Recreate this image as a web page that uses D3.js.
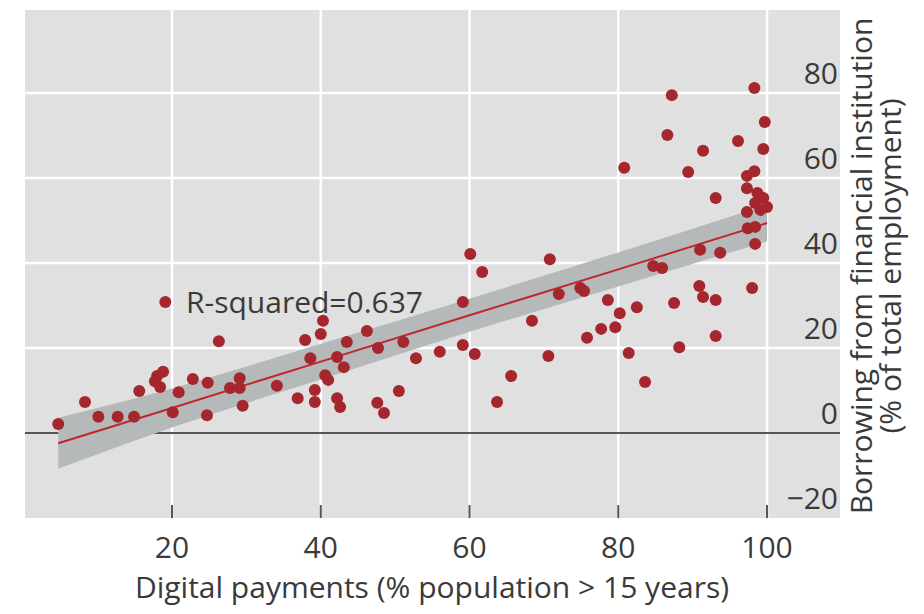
<!DOCTYPE html>
<html>
<head>
<meta charset="utf-8">
<script src="https://cdn.jsdelivr.net/npm/d3@7"></script>
<style>
  html, body { margin: 0; padding: 0; background: #fff; }
  text { font-family: "Open Sans", "Noto Sans", sans-serif; fill: #3a3a3a; }
</style>
</head>
<body>
<svg id="chart" width="924" height="614"></svg>
<script>
// digital payments (% pop > 15) vs borrowing from financial institution
const digitalPay = [
  4.7, 8.3, 10.1, 12.7, 14.9, 15.6, 18.0, 18.8, 17.7, 18.4,
  19.1, 20.1, 20.9, 22.8, 24.7, 24.8, 26.3, 27.8, 29.1, 29.1,
  29.5, 34.1, 36.9, 37.9, 38.6, 39.2, 39.2, 40.0, 40.3, 40.6,
  41.0, 42.2, 42.2, 42.6, 43.1, 43.5, 46.2, 47.7, 47.6, 48.5,
  50.5, 51.1, 52.8, 56.0, 59.1, 60.7, 59.1, 60.1, 61.7, 63.7,
  65.6, 68.4, 70.6, 70.8, 72.0, 74.9, 75.4, 75.8, 77.7, 78.6,
  79.6, 80.2, 82.5, 81.4, 80.8, 83.6, 84.7, 85.9, 87.5, 88.2,
  90.9, 91.4, 93.1, 93.1, 98.0, 87.2, 98.3, 99.7, 86.6, 96.1,
  99.5, 91.4, 89.4, 97.3, 98.3, 97.3, 98.7, 99.5, 100.0, 98.4,
  97.3, 99.1, 93.1, 97.4, 98.4, 98.4, 93.7, 91.0
];
const borrowing = [
  2.1, 7.3, 3.8, 3.8, 3.8, 9.9, 13.4, 14.4, 12.2, 10.8,
  30.8, 4.9, 9.6, 12.7, 4.2, 11.8, 21.6, 10.6, 12.9, 10.6,
  6.4, 11.1, 8.2, 21.9, 17.6, 10.1, 7.3, 23.3, 26.4, 13.6,
  12.5, 17.9, 8.2, 6.1, 15.5, 21.4, 24.0, 20.0, 7.1, 4.7,
  9.9, 21.4, 17.6, 19.1, 20.7, 18.6, 30.8, 42.1, 37.9, 7.3,
  13.4, 26.4, 18.1, 40.9, 32.7, 34.1, 33.4, 22.4, 24.5, 31.3,
  24.9, 28.2, 29.6, 18.8, 62.4, 12.0, 39.3, 38.8, 30.6, 20.2,
  34.6, 32.0, 31.3, 22.8, 34.1, 79.5, 81.2, 73.2, 70.1, 68.7,
  66.8, 66.4, 61.4, 60.5, 61.6, 57.6, 56.5, 55.3, 53.2, 54.1,
  52.0, 52.5, 55.3, 48.2, 48.5, 44.5, 42.4, 43.1
];

// fitted line and confidence band
const fitX = [4.7, 20, 40, 60, 80, 100];
const fitY = [-2.4, 5.9, 16.8, 27.7, 38.5, 49.4];
const bandLo = [-8.4, 1.3, 12.6, 23.8, 34.5, 45.1];
const bandHi = [3.6, 10.5, 21.0, 31.6, 42.5, 53.7];

const xTicks = [20, 40, 60, 80, 100];
const yTicks = [-20, 0, 20, 40, 60, 80];
const rSquared = 'R-squared=0.637';
const xTitle = 'Digital payments (% population > 15 years)';
const yTitle = ['Borrowing from financial institution', '(% of total employment)'];

const svg = d3.select('#chart');

const x = d3.scaleLinear().domain([0, 110]).range([23.25, 841.4]);
const y = d3.scaleLinear().domain([-20, 100]).range([518, 8]);

const panel = { left: 25, right: 840, top: 10, bottom: 518 };
const fontSize = 30;

svg.append('rect')
  .attr('x', panel.left).attr('y', panel.top)
  .attr('width', panel.right - panel.left).attr('height', panel.bottom - panel.top)
  .attr('fill', '#e0e0e0');

const grid = svg.append('g');
grid.selectAll('.vgrid').data(xTicks).enter()
  .append('line')
  .attr('class', 'vgrid')
  .attr('x1', d => x(d)).attr('x2', d => x(d))
  .attr('y1', panel.top).attr('y2', panel.bottom)
  .attr('stroke', '#fff').attr('stroke-width', 2.5);

grid.selectAll('.hgrid').data(yTicks.filter(d => d > 0)).enter()
  .append('line')
  .attr('class', 'hgrid')
  .attr('x1', panel.left).attr('x2', panel.right)
  .attr('y1', d => y(d)).attr('y2', d => y(d))
  .attr('stroke', '#fff').attr('stroke-width', 2.5);

// zero line
svg.append('line')
  .attr('x1', panel.left).attr('x2', panel.right)
  .attr('y1', y(0)).attr('y2', y(0))
  .attr('stroke', '#555').attr('stroke-width', 2);

// confidence band
const band = fitX.map((d, i) => ({ x: d, lo: bandLo[i], hi: bandHi[i] }));
svg.append('path')
  .datum(band)
  .attr('fill', '#b5b9b9')
  .attr('d', d3.area()
    .curve(d3.curveMonotoneX)
    .x(d => x(d.x))
    .y0(d => y(d.lo))
    .y1(d => y(d.hi)));

// fit line
svg.append('path')
  .datum(fitX.map((d, i) => [d, fitY[i]]))
  .attr('fill', 'none')
  .attr('stroke', '#c0272d')
  .attr('stroke-width', 2)
  .attr('d', d3.line().x(d => x(d[0])).y(d => y(d[1])));

// points
svg.append('g')
  .selectAll('circle')
  .data(digitalPay.map((d, i) => [d, borrowing[i]]))
  .enter()
  .append('circle')
  .attr('cx', d => x(d[0]))
  .attr('cy', d => y(d[1]))
  .attr('r', 6)
  .attr('fill', '#a6262e');

// x axis: ticks inside the panel, labels below
const xAxis = svg.append('g');
xAxis.selectAll('.xtick').data(xTicks).enter()
  .append('line')
  .attr('x1', d => x(d)).attr('x2', d => x(d))
  .attr('y1', panel.bottom - 13).attr('y2', panel.bottom)
  .attr('stroke', '#555').attr('stroke-width', 2);
xAxis.selectAll('.xlab').data(xTicks).enter()
  .append('text')
  .attr('x', d => x(d))
  .attr('y', 558)
  .attr('text-anchor', 'middle')
  .attr('font-size', fontSize)
  .text(d => d);

// y axis labels, right side, sitting above their lines
svg.append('g').selectAll('text').data(yTicks).enter()
  .append('text')
  .attr('x', 838)
  .attr('y', d => y(d) - 9)
  .attr('text-anchor', 'end')
  .attr('font-size', fontSize)
  .text(d => d < 0 ? '\u2212' + Math.abs(d) : d);

svg.append('text')
  .attr('x', 186).attr('y', 313)
  .attr('font-size', fontSize)
  .text(rSquared);

svg.append('text')
  .attr('x', 432).attr('y', 598)
  .attr('text-anchor', 'middle')
  .attr('font-size', fontSize)
  .text(xTitle);

svg.selectAll('.ytitle').data(yTitle).enter()
  .append('text')
  .attr('class', 'ytitle')
  .attr('transform', (d, i) => `translate(${872 + i * 29},266) rotate(-90)`)
  .attr('text-anchor', 'middle')
  .attr('font-size', fontSize)
  .text(d => d);
</script>
</body>
</html>
